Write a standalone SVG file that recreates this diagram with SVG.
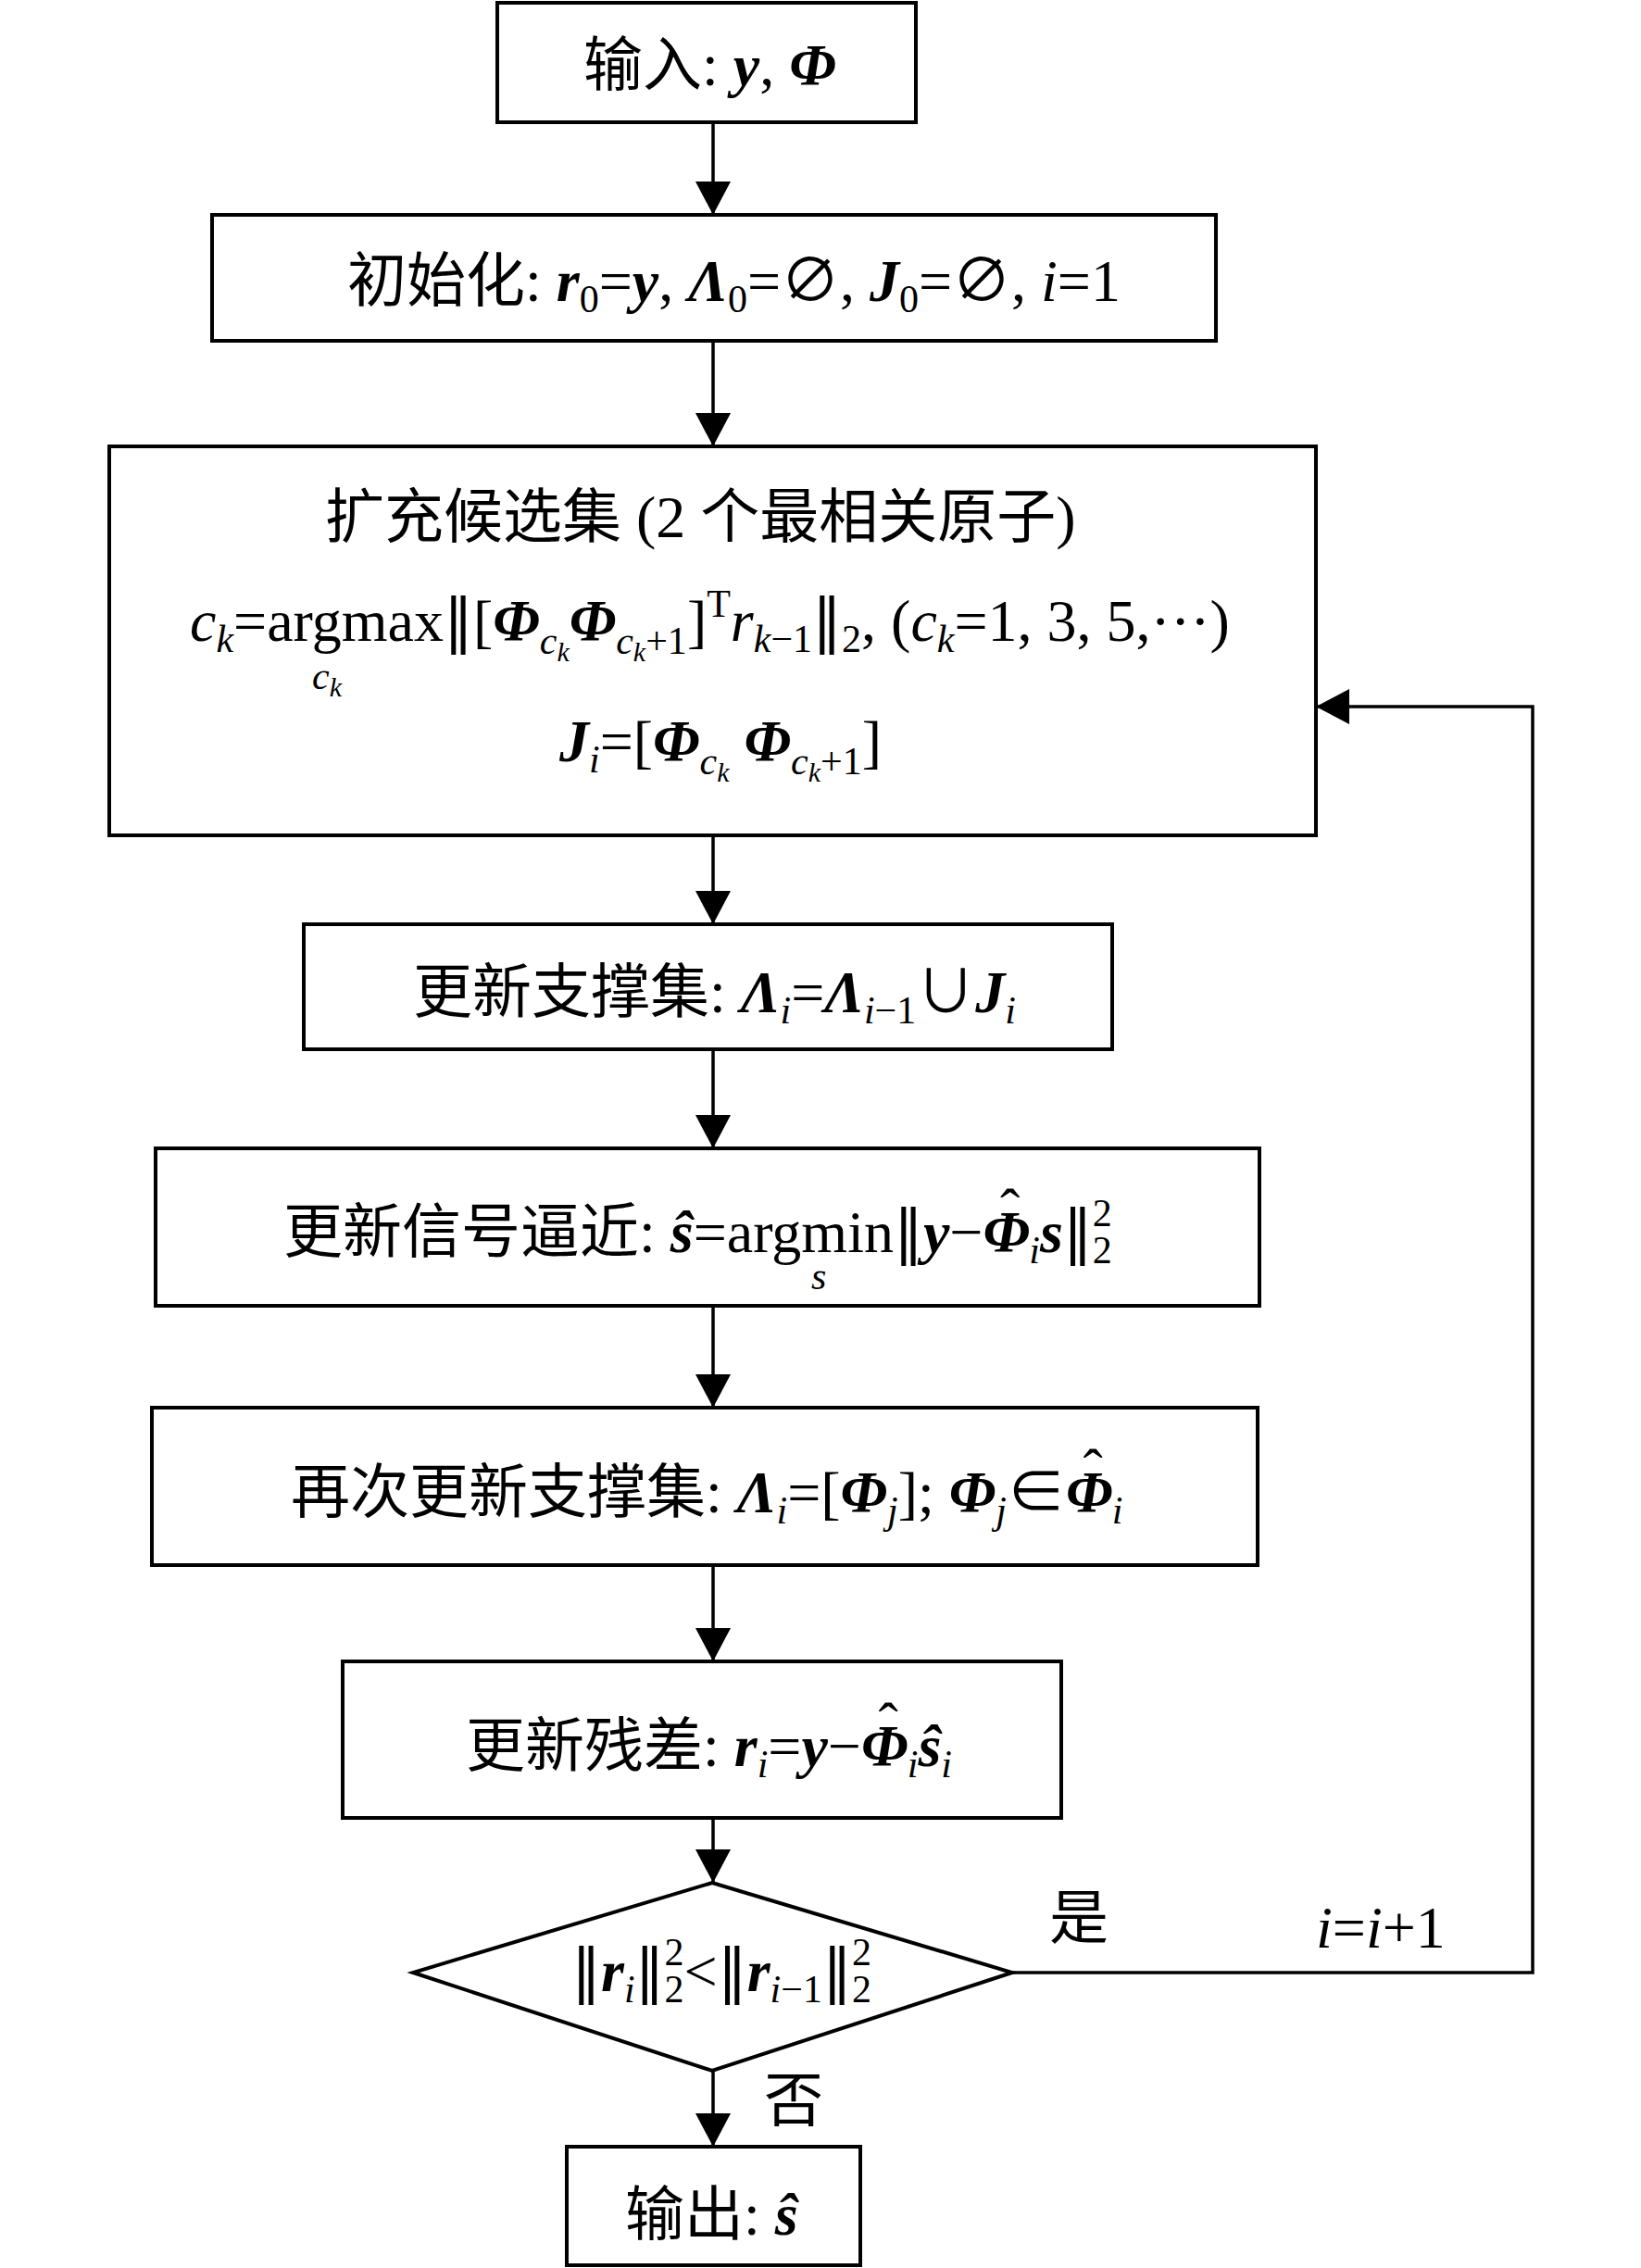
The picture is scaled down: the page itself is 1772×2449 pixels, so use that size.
<svg xmlns="http://www.w3.org/2000/svg" width="1772" height="2449" viewBox="0 0 1772 2449">
<style>
.bg{fill:#fff}
.box{fill:#fff;stroke:#000;stroke-width:4}
.ln{fill:none;stroke:#000;stroke-width:3.5}
.t{font-family:"Liberation Serif","Noto Sans CJK SC",serif;font-size:64px;fill:#000}
.bi{font-weight:bold;font-style:italic}
.i{font-style:italic}
.s{font-size:42px}
.ss{font-size:30px}
.nm{font-family:"DejaVu Serif",serif;font-weight:normal;font-style:normal}
</style>
<defs>
<marker id="ah" markerUnits="userSpaceOnUse" markerWidth="38" markerHeight="38" refX="36" refY="19" orient="auto">
<path d="M0,0 L36,19 L0,38 z" fill="#000"/>
</marker>
</defs>
<rect class="bg" x="0" y="0" width="1772" height="2449"/>

<g id="connectors">
<line class="ln" x1="770" y1="132" x2="770" y2="232" marker-end="url(#ah)"/>
<line class="ln" x1="770" y1="368" x2="770" y2="482" marker-end="url(#ah)"/>
<line class="ln" x1="770" y1="902" x2="770" y2="998" marker-end="url(#ah)"/>
<line class="ln" x1="770" y1="1133" x2="770" y2="1240" marker-end="url(#ah)"/>
<line class="ln" x1="770" y1="1410" x2="770" y2="1520" marker-end="url(#ah)"/>
<line class="ln" x1="770" y1="1690" x2="770" y2="1794" marker-end="url(#ah)"/>
<line class="ln" x1="770" y1="1963" x2="770" y2="2033" marker-end="url(#ah)"/>
<line class="ln" x1="770" y1="2236" x2="770" y2="2318" marker-end="url(#ah)"/>
<polyline class="ln" points="1093,2130 1655,2130 1655,763 1421,763" marker-end="url(#ah)"/>
<text class="t" x="1133" y="2093">是</text>
<text class="t" x="1421" y="2103"><tspan class="i">i</tspan>=<tspan class="i">i</tspan>+1</text>
<text class="t" x="825" y="2290">否</text>
</g>

<g id="n1">
<rect class="box" x="537" y="3" width="452" height="129"/>
<text class="t" x="630" y="92">输入: <tspan class="bi">y</tspan>, <tspan class="bi">Φ</tspan></text>
</g>

<g id="n2">
<rect class="box" x="229" y="232" width="1084" height="136"/>
<text class="t" x="375" y="325">初始化: <tspan class="bi">r</tspan><tspan class="s" dy="12">0</tspan><tspan dy="-12">=</tspan><tspan class="bi">y</tspan>, <tspan class="bi">Λ</tspan><tspan class="s" dy="12">0</tspan><tspan dy="-12">=∅, </tspan><tspan class="bi">J</tspan><tspan class="s" dy="12">0</tspan><tspan dy="-12">=∅, </tspan><tspan class="i">i</tspan>=1</text>
</g>

<g id="n3">
<rect class="box" x="118" y="482" width="1303" height="420"/>
<text class="t" x="351" y="580">扩充候选集 (2 个最相关原子)</text>
<text class="t" x="205" y="692"><tspan class="i">c</tspan><tspan class="i s" dy="12">k</tspan><tspan dy="-12">=argmax</tspan><tspan class="nm">‖</tspan>[<tspan class="bi">Φ</tspan><tspan class="i s" dy="14">c</tspan><tspan class="i ss" dy="8">k</tspan><tspan class="bi" dy="-22">Φ</tspan><tspan class="i s" dy="14">c</tspan><tspan class="i ss" dy="8">k</tspan><tspan class="s" dy="-8">+1</tspan><tspan dy="-14">]</tspan><tspan class="s" dy="-26">T</tspan><tspan class="i" dy="26">r</tspan><tspan class="i s" dy="12">k</tspan><tspan class="s">−1</tspan><tspan class="nm" dy="-12">‖</tspan><tspan class="s" dy="12">2</tspan><tspan dy="-12">, (</tspan><tspan class="i">c</tspan><tspan class="i s" dy="12">k</tspan><tspan dy="-12">=1, 3, 5,···)</tspan></text>
<text class="t s" x="337" y="744"><tspan class="i">c</tspan><tspan class="i ss" dy="8">k</tspan></text>
<text class="t" x="604" y="822"><tspan class="bi">J</tspan><tspan class="i s" dy="12">i</tspan><tspan dy="-12">=[</tspan><tspan class="bi">Φ</tspan><tspan class="i s" dy="14">c</tspan><tspan class="i ss" dy="8">k</tspan><tspan class="bi" dy="-22"> Φ</tspan><tspan class="i s" dy="14">c</tspan><tspan class="i ss" dy="8">k</tspan><tspan class="s" dy="-8">+1</tspan><tspan dy="-14">]</tspan></text>
</g>

<g id="n4">
<rect class="box" x="328" y="998" width="873" height="135"/>
<text class="t" x="446" y="1093">更新支撑集: <tspan class="bi">Λ</tspan><tspan class="i s" dy="12">i</tspan><tspan dy="-12">=</tspan><tspan class="bi">Λ</tspan><tspan class="i s" dy="12">i</tspan><tspan class="s">−1</tspan><tspan dy="-12">∪</tspan><tspan class="bi">J</tspan><tspan class="i s" dy="12">i</tspan></text>
</g>

<g id="n5">
<rect class="box" x="168" y="1240" width="1192" height="170"/>
<text class="t" x="306" y="1352">更新信号逼近: <tspan class="bi">ŝ</tspan>=argmin<tspan class="nm">‖</tspan><tspan class="bi">y</tspan>−<tspan class="bi">Φ</tspan><tspan dx="-32" dy="-24">ˆ</tspan><tspan class="i s" dx="10" dy="36">i</tspan><tspan class="bi" dy="-12">s</tspan><tspan class="nm">‖</tspan><tspan class="s" dy="-28">2</tspan><tspan class="s" dx="-21" dy="40">2</tspan></text>
<text class="t s" x="876" y="1392"><tspan class="i">s</tspan></text>
</g>

<g id="n6">
<rect class="box" x="164" y="1520" width="1194" height="170"/>
<text class="t" x="314" y="1633">再次更新支撑集: <tspan class="bi">Λ</tspan><tspan class="i s" dy="12">i</tspan><tspan dy="-12">=[</tspan><tspan class="bi">Φ</tspan><tspan class="i s" dy="12">j</tspan><tspan dy="-12">]; </tspan><tspan class="bi">Φ</tspan><tspan class="i s" dy="12">j</tspan><tspan dy="-12">∈</tspan><tspan class="bi">Φ</tspan><tspan dx="-32" dy="-24">ˆ</tspan><tspan class="i s" dx="10" dy="36">i</tspan></text>
</g>

<g id="n7">
<rect class="box" x="370" y="1794" width="776" height="169"/>
<text class="t" x="503" y="1907">更新残差: <tspan class="bi">r</tspan><tspan class="i s" dy="12">i</tspan><tspan dy="-12">=</tspan><tspan class="bi">y</tspan>−<tspan class="bi">Φ</tspan><tspan dx="-32" dy="-24">ˆ</tspan><tspan class="i s" dx="10" dy="36">i</tspan><tspan class="bi" dy="-12">ŝ</tspan><tspan class="i s" dy="12">i</tspan></text>
</g>

<g id="n8">
<polygon class="box" points="769,2033 1093,2130 769,2236 446,2130"/>
<text class="t" x="617" y="2150"><tspan class="nm">‖</tspan><tspan class="bi">r</tspan><tspan class="i s" dy="12">i</tspan><tspan class="nm" dy="-12">‖</tspan><tspan class="s" dy="-28">2</tspan><tspan class="s" dx="-21" dy="40">2</tspan><tspan dy="-12">&lt;</tspan><tspan class="nm">‖</tspan><tspan class="bi">r</tspan><tspan class="i s" dy="12">i</tspan><tspan class="s">−1</tspan><tspan class="nm" dy="-12">‖</tspan><tspan class="s" dy="-28">2</tspan><tspan class="s" dx="-21" dy="40">2</tspan></text>
</g>

<g id="n9">
<rect class="box" x="612" y="2318" width="317" height="128"/>
<text class="t" x="675" y="2413">输出: <tspan class="bi">ŝ</tspan></text>
</g>
</svg>
